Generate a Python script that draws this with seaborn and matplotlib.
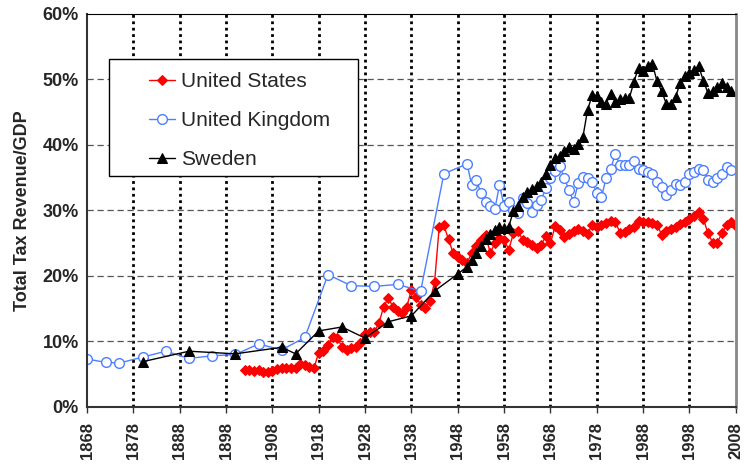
import matplotlib
matplotlib.use("Agg")
import matplotlib.pyplot as plt
import pandas as pd
import seaborn as sns
from matplotlib.patches import Rectangle
from matplotlib.ticker import FuncFormatter

# --- data (percent of GDP) ---
us_years = list(range(1902, 2009))
us_vals = [
    5.6, 5.7, 5.5, 5.6, 5.4, 5.3, 5.5, 5.8, 5.9, 5.9,
    5.9, 6.0, 6.6, 6.4, 6.1, 6.0, 8.3, 8.6, 9.5, 10.7,
    10.5, 9.2, 8.7, 9.0, 9.2, 9.7, 11.2, 11.4, 11.5, 12.8,
    15.3, 16.6, 15.3, 14.6, 14.4, 15.3, 17.9, 16.8, 15.6, 15.1,
    16.1, 19.1, 27.5, 27.7, 25.6, 23.5, 22.9, 22.4, 22.0, 23.5,
    24.5, 25.5, 26.3, 23.5, 25.0, 25.8, 25.5, 24.0, 26.5, 26.8,
    25.5, 25.2, 24.7, 24.2, 24.7, 26.1, 25.0, 27.6, 27.0, 26.0,
    26.4, 26.8, 27.2, 26.8, 26.4, 27.8, 27.4, 27.7, 28.1, 28.4,
    28.3, 26.6, 26.7, 27.2, 27.4, 28.4, 28.3, 28.3, 28.1, 27.8,
    26.3, 26.8, 27.1, 27.5, 27.9, 28.3, 28.7, 29.1, 29.7, 28.7,
    26.5, 25.1, 25.1, 26.5, 27.8, 28.3, 27.6,
]

uk_years = [1868, 1872, 1875, 1880, 1885, 1890, 1895, 1900, 1905, 1910,
            1915, 1920, 1925, 1930, 1935, 1940, 1945] + list(range(1950, 2008))
uk_vals = [
    7.3, 6.8, 6.7, 7.6, 8.5, 7.4, 7.8, 8.0, 9.6, 8.7,
    10.6, 20.2, 18.5, 18.4, 18.7, 17.7, 35.6,
    37.1, 33.9, 34.7, 32.6, 31.3, 30.7, 30.2, 33.9, 30.7, 31.3,
    30.0, 29.6, 31.9, 31.1, 29.8, 30.8, 31.6, 33.4, 34.9, 36.0,
    36.8, 34.9, 33.1, 31.3, 34.2, 35.1, 34.9, 34.3, 32.7, 32.0,
    34.9, 36.4, 38.6, 36.9, 36.9, 36.9, 37.6, 36.4, 36.2, 35.8,
    35.6, 34.4, 33.5, 32.4, 33.1, 34.1, 33.9, 34.4, 35.6, 35.9,
    36.4, 36.2, 34.7, 34.4, 34.9, 35.6, 36.7, 36.2,
]

se_years = [1880, 1890, 1900, 1910, 1913, 1918, 1923, 1928, 1933, 1938,
            1943, 1948] + list(range(1950, 2008))
se_vals = [
    6.9, 8.5, 8.1, 9.1, 8.1, 11.6, 12.2, 10.5, 13.0, 13.9,
    17.7, 20.3,
    21.4, 22.4, 23.5, 24.6, 25.6, 26.4, 27.0, 27.4, 27.3, 27.5,
    29.9, 30.7, 32.0, 32.8, 33.2, 33.7, 34.4, 35.5, 36.9, 38.0,
    38.3, 39.0, 39.7, 39.4, 40.2, 41.2, 45.3, 47.6, 47.5, 46.5,
    46.3, 47.8, 46.6, 47.0, 47.1, 47.1, 49.6, 51.8, 51.3, 52.0,
    52.4, 49.7, 48.2, 46.3, 46.2, 47.3, 49.5, 50.6, 51.0, 51.5,
    52.0, 49.8, 47.9, 48.2, 48.8, 49.4, 48.8, 48.2,
]

x_ticks = list(range(1868, 2009, 10))
y_ticks = [0, 10, 20, 30, 40, 50, 60]

sns.set_style("white")
plt.rcParams["font.family"] = ["Liberation Sans", "DejaVu Sans"]

fig = plt.figure(figsize=(7.44, 4.65), dpi=100)
ax = fig.add_axes([0.117, 0.125, 0.872, 0.845])

us_df = pd.DataFrame({"year": us_years, "value": us_vals})
uk_df = pd.DataFrame({"year": uk_years, "value": uk_vals})
se_df = pd.DataFrame({"year": se_years, "value": se_vals})

sns.lineplot(data=us_df, x="year", y="value", ax=ax, color="#FF0000",
             marker="D", markersize=5, markeredgecolor="#FF0000",
             linewidth=1, label="United States")
sns.lineplot(data=uk_df, x="year", y="value", ax=ax, color="#4D7FFF",
             marker="o", markersize=7, markerfacecolor="white",
             markeredgecolor="#4D7FFF", markeredgewidth=1,
             linewidth=1, label="United Kingdom")
sns.lineplot(data=se_df, x="year", y="value", ax=ax, color="black",
             marker="^", markersize=7, markeredgecolor="black",
             linewidth=1, label="Sweden")

ax.set_xlim(1868, 2008)
ax.set_ylim(0, 60)
ax.set_xticks(x_ticks)
ax.set_yticks(y_ticks)
ax.yaxis.set_major_formatter(FuncFormatter(lambda v, _: f"{v:.0f}%"))

# grid: dotted black verticals, dashed gray horizontals
for xv in x_ticks[1:-1]:
    ax.axvline(xv, color="black", linestyle=(0, (1, 1.3)), linewidth=2, zorder=0.5)
for yv in y_ticks[1:-1]:
    ax.axhline(yv, color="#555555", linestyle=(0, (5, 3)), linewidth=0.9, zorder=0.5)

for side in ["left", "bottom"]:
    ax.spines[side].set_color("#333333")
    ax.spines[side].set_linewidth(1.5)
ax.spines["top"].set_color("black")
ax.spines["top"].set_linewidth(0.8)
ax.spines["right"].set_color("#888888")
ax.spines["right"].set_linewidth(2)

ax.tick_params(axis="x", bottom=True, length=4, width=1, color="#333333",
               direction="out", pad=7, labelrotation=90, labelsize=12)
ax.tick_params(axis="y", left=False, length=0, pad=6, labelsize=13)
for lab in ax.get_xticklabels() + ax.get_yticklabels():
    lab.set_fontweight("bold")

ax.set_xlabel("")
ax.set_ylabel("Total Tax Revenue/GDP", fontsize=13, fontweight="bold", labelpad=8)

leg = ax.legend(loc="upper left", bbox_to_anchor=(0.08, 0.878), frameon=False,
                fontsize=15, handlelength=1.25, handletextpad=0.25,
                labelspacing=0.95, borderpad=0)
ax.add_patch(Rectangle((0.034, 0.588), 0.384, 0.298, transform=ax.transAxes,
                       facecolor="white", edgecolor="black", linewidth=1, zorder=4))
leg.set_zorder(5)

fig.savefig("out.png", dpi=100)
